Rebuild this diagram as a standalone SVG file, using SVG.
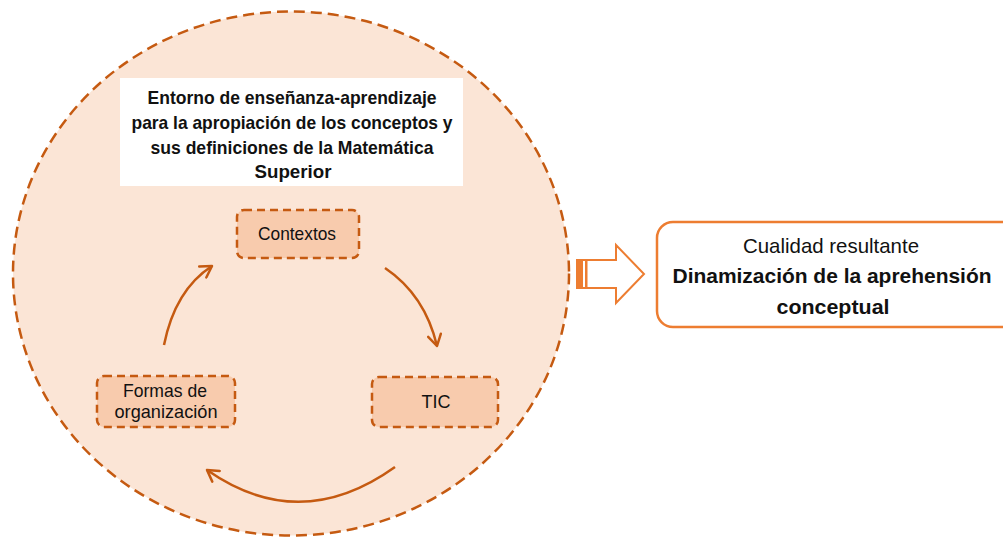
<svg xmlns="http://www.w3.org/2000/svg" width="1003" height="538" viewBox="0 0 1003 538">
<style>
.env{fill:#FBE5D6;stroke:#C55A11;stroke-width:2.5;stroke-dasharray:11 6}
.node{fill:#F8CBAD;stroke:#C55A11;stroke-width:2.5;stroke-dasharray:8 5}
.conn{fill:none;stroke:#C55A11;stroke-width:2.5}
.t{font-family:"Liberation Sans",Arial,sans-serif;fill:#111;text-anchor:middle}
.b{font-weight:bold}
</style>
<defs>
<marker id="chev" markerUnits="userSpaceOnUse" viewBox="0 0 16 16" refX="13" refY="8" markerWidth="16" markerHeight="16" orient="auto">
<path d="M2,1.5 L13,8 L2,14.5" fill="none" stroke="#C55A11" stroke-width="2.5" stroke-linecap="round" stroke-linejoin="round"/>
</marker>
</defs>
<rect width="1003" height="538" fill="#fff"/>
<g id="entorno">
<ellipse class="env" cx="291" cy="273.5" rx="278" ry="262"/>
<rect x="120" y="78" width="343" height="108" fill="#fff"/>
<text class="t b" font-size="19"><tspan x="292" y="104" textLength="289" lengthAdjust="spacingAndGlyphs">Entorno de enseñanza-aprendizaje</tspan><tspan x="292" y="129" textLength="321" lengthAdjust="spacingAndGlyphs">para la apropiación de los conceptos y</tspan><tspan x="292" y="154" textLength="283" lengthAdjust="spacingAndGlyphs">sus definiciones de la Matemática</tspan><tspan x="293" y="178" textLength="77" lengthAdjust="spacingAndGlyphs">Superior</tspan></text>
</g>
<g id="contextos">
<rect class="node" x="237" y="210" width="122" height="48" rx="7"/>
<text class="t" font-size="19" x="297" y="240" textLength="78" lengthAdjust="spacingAndGlyphs">Contextos</text>
</g>
<g id="tic">
<rect class="node" x="372" y="377" width="126" height="50" rx="7"/>
<text class="t" font-size="19" x="436" y="408" textLength="29" lengthAdjust="spacingAndGlyphs">TIC</text>
</g>
<g id="formas">
<rect class="node" x="97" y="376" width="138" height="51" rx="7"/>
<text class="t" font-size="19"><tspan x="165" y="397" textLength="84" lengthAdjust="spacingAndGlyphs">Formas de</tspan><tspan x="166" y="418" textLength="103" lengthAdjust="spacingAndGlyphs">organización</tspan></text>
</g>
<g id="connectors">
<path class="conn" d="M385,268 Q425,295 437,346" marker-end="url(#chev)"/>
<path class="conn" d="M395,467 Q300,535 207,470" marker-end="url(#chev)"/>
<path class="conn" d="M164,345 Q175,290 212,266" marker-end="url(#chev)"/>
<g id="block-arrow">
<path d="M577,260 L616,260 L616,245 L644,274 L616,303 L616,288 L577,288 Z" fill="#fff" stroke="#ED7D31" stroke-width="2" stroke-linejoin="miter"/>
<rect x="577" y="260" width="6" height="28" fill="#ED7D31"/>
<rect x="585" y="260" width="2.5" height="28" fill="#ED7D31"/>
</g>
</g>
<g id="cualidad">
<rect x="657" y="222" width="360" height="105" rx="16" fill="#fff" stroke="#ED7D31" stroke-width="2.5"/>
<text class="t" font-size="21" x="831" y="253" textLength="176" lengthAdjust="spacingAndGlyphs">Cualidad resultante</text>
<text class="t b" font-size="21" x="832" y="283" textLength="319" lengthAdjust="spacingAndGlyphs">Dinamización de la aprehensión</text>
<text class="t b" font-size="21" x="833" y="314" textLength="113" lengthAdjust="spacingAndGlyphs">conceptual</text>
</g>
</svg>
